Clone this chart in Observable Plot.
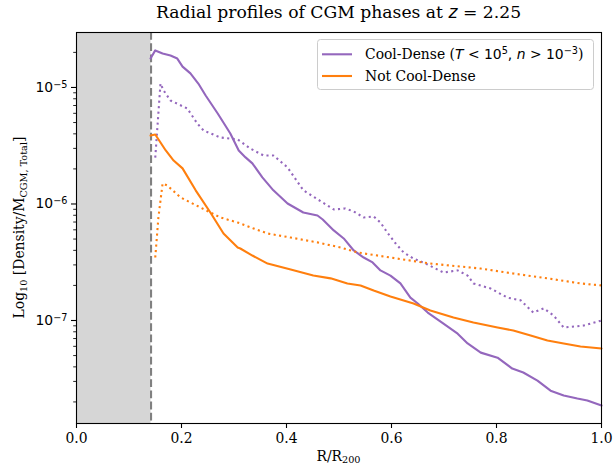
<!DOCTYPE html>
<html><head><meta charset="utf-8">
<script src="https://cdn.jsdelivr.net/npm/d3@7"></script>
<script src="https://cdn.jsdelivr.net/npm/@observablehq/plot@0.6"></script>
<style>
body{margin:0;background:#fff;}
#wrap{position:relative;width:614px;height:466px;}
#title{position:absolute;left:76px;width:525px;top:2px;text-align:center;font-family:"DejaVu Serif";font-size:17.2px;color:#000;}
#title i{font-family:"DejaVu Sans";}
</style></head><body>
<div id="wrap"><div id="title">Radial profiles of CGM phases at <i>z</i> = 2.25</div></div>
<script>
// ---- data ----
const cdSolidR = [0.141,0.150,0.164,0.179,0.192,0.202,0.217,0.232,0.246,0.269,0.293,0.309,0.322,0.335,0.354,0.375,0.402,0.432,0.459,0.469,0.490,0.509,0.528,0.547,0.564,0.579,0.598,0.617,0.636,0.650,0.669,0.699,0.726,0.745,0.770,0.802,0.830,0.851,0.878,0.903,0.928,0.954,0.973,1.0];
const cdSolidV = [1.774e-5,2.08e-5,1.96e-5,1.88e-5,1.77e-5,1.51e-5,1.32e-5,1.08e-5,8.53e-6,5.98e-6,4.03e-6,2.88e-6,2.51e-6,2.23e-6,1.69e-6,1.31e-6,1.01e-6,8.45e-7,7.96e-7,7.36e-7,5.93e-7,5.06e-7,3.99e-7,3.47e-7,3.15e-7,2.69e-7,2.43e-7,2.08e-7,1.57e-7,1.40e-7,1.17e-7,9.4e-8,7.7e-8,6.35e-8,5.3e-8,4.8e-8,3.87e-8,3.58e-8,3.05e-8,2.5e-8,2.27e-8,2.14e-8,2.06e-8,1.86e-8];
const cdDotR = [0.150,0.160,0.166,0.179,0.211,0.230,0.242,0.274,0.307,0.331,0.356,0.375,0.402,0.432,0.469,0.490,0.512,0.528,0.547,0.566,0.579,0.592,0.608,0.623,0.642,0.665,0.699,0.726,0.745,0.756,0.789,0.821,0.846,0.870,0.890,0.909,0.928,0.966,1.0];
const cdDotV = [2.5e-6,1.08e-5,9.42e-6,7.73e-6,6.6e-6,4.91e-6,4.28e-6,3.72e-6,3.58e-6,2.99e-6,2.61e-6,2.61e-6,2.06e-6,1.31e-6,1.03e-6,8.97e-7,9.15e-7,8.63e-7,7.66e-7,7.82e-7,6.93e-7,5.69e-7,4.58e-7,3.84e-7,3.40e-7,3.08e-7,2.58e-7,2.69e-7,2.43e-7,2.08e-7,1.88e-7,1.57e-7,1.49e-7,1.17e-7,1.27e-7,1.10e-7,8.7e-8,9.05e-8,1.0e-7];
const ncdSolidR = [0.141,0.150,0.170,0.185,0.202,0.227,0.255,0.280,0.307,0.312,0.335,0.364,0.408,0.451,0.484,0.516,0.541,0.566,0.598,0.642,0.674,0.718,0.756,0.802,0.832,0.865,0.897,0.928,0.960,1.0];
const ncdSolidV = [3.87e-6,3.95e-6,2.88e-6,2.36e-6,2.02e-6,1.31e-6,8.45e-7,5.58e-7,4.23e-7,4.15e-7,3.61e-7,3.08e-7,2.74e-7,2.43e-7,2.30e-7,2.08e-7,2.0e-7,1.81e-7,1.61e-7,1.40e-7,1.22e-7,1.06e-7,9.6e-8,8.7e-8,8.2e-8,7.43e-8,6.73e-8,6.35e-8,5.98e-8,5.75e-8];
const ncdDotR = [0.150,0.156,0.164,0.173,0.198,0.236,0.274,0.307,0.337,0.364,0.408,0.459,0.503,0.535,0.598,0.674,0.770,0.832,0.897,0.960,1.0];
const ncdDotV = [3.47e-7,7.66e-7,1.50e-6,1.44e-6,1.14e-6,9.33e-7,7.66e-7,6.93e-7,6.17e-7,5.58e-7,5.15e-7,4.68e-7,4.23e-7,3.84e-7,3.47e-7,3.08e-7,2.79e-7,2.53e-7,2.30e-7,2.08e-7,2.0e-7];
const innerR = [0, 0.142];           // shaded inner region, dashed line at its edge
const xDomain = [0, 1];
const yDomain = [1.306e-8, 2.963e-5];
const xTicks = [0, 0.2, 0.4, 0.6, 0.8, 1.0];
const yMajor = [1e-5, 1e-6, 1e-7];
const yMinor = [];
for (let e = -8; e <= -5; e++) for (let m = 2; m <= 9; m++) { const v = m * Math.pow(10, e); if (v > yDomain[0] && v < yDomain[1]) yMinor.push(v); }
const legendLabels = ["Cool-Dense", "Not Cool-Dense"];
const purple = "#9467bd", orange = "#ff7f0e";

const fmtPow = d => "10^" + Math.round(Math.log10(d));
const toRows = (R, V) => R.map((r, i) => ({r, v: V[i]}));

const chart = Plot.plot({
  width: 614, height: 466,
  marginTop: 32, marginLeft: 76, marginRight: 13, marginBottom: 43,
  style: {fontFamily: "DejaVu Serif", fontSize: "13.9px", background: "white", color: "black", overflow: "visible"},
  x: {domain: xDomain},
  y: {type: "log", domain: yDomain},
  marks: [
    Plot.rect([innerR], {x1: d => d[0], x2: d => d[1], y1: yDomain[0], y2: yDomain[1], fill: "#d6d6d6"}),
    Plot.ruleX([innerR[1]], {stroke: "#808080", strokeWidth: 2.1, strokeDasharray: "7.8,3.4"}),
    Plot.line(toRows(cdSolidR, cdSolidV), {x: "r", y: "v", stroke: purple, strokeWidth: 2.1}),
    Plot.line(toRows(cdDotR, cdDotV), {x: "r", y: "v", stroke: purple, strokeWidth: 2.1, strokeDasharray: "2.1,3.4", strokeLinecap: "butt"}),
    Plot.line(toRows(ncdSolidR, ncdSolidV), {x: "r", y: "v", stroke: orange, strokeWidth: 2.1}),
    Plot.line(toRows(ncdDotR, ncdDotV), {x: "r", y: "v", stroke: orange, strokeWidth: 2.1, strokeDasharray: "2.1,3.4", strokeLinecap: "butt"}),
    Plot.axisX({ticks: xTicks, tickFormat: d3.format(".1f"), tickSize: 5, tickPadding: 5, label: null, strokeWidth: 1.1}),
    Plot.axisY({ticks: yMajor, tickFormat: fmtPow, tickSize: 5, tickPadding: 4, label: null, fontFamily: "DejaVu Sans", fontSize: 13.9, strokeWidth: 1.1, ariaLabel: "ymajor"}),
    Plot.axisY({ticks: yMinor, tickFormat: () => "", tickSize: 2.8, label: null, strokeWidth: 0.85}),
    Plot.frame({stroke: "black", strokeWidth: 1.1})
  ]
});
document.getElementById("wrap").prepend(chart);
document.getElementById("title").style.zIndex = 2;

const svg = d3.select(chart);
// y tick labels: base 10 with a true superscript exponent
svg.selectAll("text").each(function () {
  const t = d3.select(this);
  const s = t.text();
  if (/^10\^-?\d+$/.test(s)) {
    const exp = s.split("^")[1].replace("-", "−");
    t.text(null);
    t.append("tspan").text("10");
    t.append("tspan").attr("font-size", 9.7).attr("dy", "-0.45em").text(exp);
  }
});
// x label
const xl = svg.append("text").attr("x", 338.5).attr("y", 460.5).attr("text-anchor", "middle")
  .attr("font-family", "DejaVu Serif").attr("font-size", 13.9).attr("fill", "black");
xl.append("tspan").text("R/R");
xl.append("tspan").attr("font-size", 9.7).attr("dy", 2.5).text("200");
// y label
const yl = svg.append("text").attr("transform", "translate(24,227.5) rotate(-90)").attr("text-anchor", "middle")
  .attr("font-family", "DejaVu Serif").attr("font-size", 13.9).attr("fill", "black");
yl.append("tspan").text("Log");
yl.append("tspan").attr("font-size", 9.7).attr("dy", 2.5).text("10");
yl.append("tspan").attr("dy", -2.5).text(" [Density/M");
yl.append("tspan").attr("font-size", 9.7).attr("dy", 2.5).text("CGM, Total");
yl.append("tspan").attr("dy", -2.5).text("]");
// legend
const lg = svg.append("g").attr("text-anchor", "start");
lg.append("rect").attr("x", 317.5).attr("y", 39.5).attr("width", 276).attr("height", 50).attr("rx", 3)
  .attr("fill", "white").attr("fill-opacity", 0.8).attr("stroke", "#cccccc").attr("stroke-width", 1);
[[purple, 54.3], [orange, 76]].forEach(([c, y]) => {
  lg.append("line").attr("x1", 322).attr("x2", 352).attr("y1", y).attr("y2", y).attr("stroke", c).attr("stroke-width", 2.1);
});
const t1 = lg.append("text").attr("x", 365).attr("y", 59).attr("text-anchor", "start").attr("font-family", "DejaVu Serif").attr("font-size", 13.9).attr("fill", "black");
t1.append("tspan").text(legendLabels[0] + " (");
t1.append("tspan").attr("font-family", "DejaVu Sans").attr("font-style", "italic").text("T");
t1.append("tspan").attr("font-family", "DejaVu Sans").text(" < 10");
t1.append("tspan").attr("font-family", "DejaVu Sans").attr("font-size", 9.7).attr("dy", -5.5).text("5");
t1.append("tspan").attr("font-family", "DejaVu Sans").attr("dy", 5.5).text(", ");
t1.append("tspan").attr("font-family", "DejaVu Sans").attr("font-style", "italic").text("n");
t1.append("tspan").attr("font-family", "DejaVu Sans").text(" > 10");
t1.append("tspan").attr("font-family", "DejaVu Sans").attr("font-size", 9.7).attr("dy", -5.5).text("−3");
t1.append("tspan").attr("dy", 5.5).text(")");
lg.append("text").attr("x", 365).attr("y", 81).attr("text-anchor", "start").attr("font-family", "DejaVu Serif").attr("font-size", 13.9).attr("fill", "black").text(legendLabels[1]);
</script>
</body></html>
